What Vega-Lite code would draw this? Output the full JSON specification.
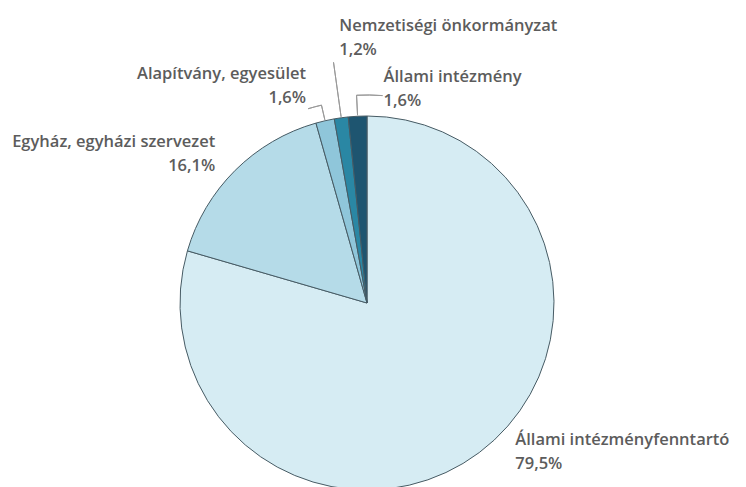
{
  "$schema": "https://vega.github.io/schema/vega-lite/v6.json",
  "width": 734,
  "height": 368,
  "autosize": {"type": "none"},
  "padding": {"left": 0, "top": 119, "right": 12, "bottom": 0},
  "background": "white",
  "config": {"view": {"stroke": null}, "text": {"font": "Open Sans", "fontSize": 16.5, "fontWeight": 600, "fill": "#5c5c5c", "lineHeight": 24}},
  "data": {"values": [
    {"name": "Állami intézményfenntartó", "value": 79.5, "order": 1},
    {"name": "Egyház, egyházi szervezet", "value": 16.1, "order": 2},
    {"name": "Alapítvány, egyesület", "value": 1.6, "order": 3},
    {"name": "Nemzetiségi önkormányzat", "value": 1.2, "order": 4},
    {"name": "Állami intézmény", "value": 1.6, "order": 5}
  ]},
  "transform": [
    {"stack": "value", "groupby": [], "as": ["v0", "v1"], "sort": [{"field": "order", "order": "ascending"}]},
    {"calculate": "(datum.v0 + datum.v1) / 2", "as": "mid"},
    {"calculate": "datum.name + '\\n' + replace(format(datum.value, '.1f'), '.', ',') + '%'", "as": "label"}
  ],
  "layer": [
    {
      "mark": {"type": "arc", "outerRadius": 187, "stroke": "#475b64", "strokeWidth": 1},
      "encoding": {
        "theta": {"field": "v0", "type": "quantitative", "scale": {"domain": [0, 100], "range": [0, 6.283185307]}},
        "theta2": {"field": "v1"},
        "color": {"field": "name", "type": "nominal", "legend": null,
          "scale": {"domain": ["Állami intézményfenntartó", "Egyház, egyházi szervezet", "Alapítvány, egyesület", "Nemzetiségi önkormányzat", "Állami intézmény"],
                    "range": ["#d6ecf3", "#b5dbe8", "#8fc6da", "#2a87a4", "#1e5570"]}}
      }
    },
    {
      "transform": [{"filter": "datum.order == 3"}],
      "mark": {"type": "arc", "innerRadius": 188, "outerRadius": 203, "fill": null, "stroke": "#999999", "strokeWidth": 1},
      "encoding": {
        "theta": {"field": "mid", "type": "quantitative", "stack": null, "scale": {"domain": [0, 100], "range": [0, 6.283185307]}},
        "theta2": {"field": "mid"}
      }
    },
    {
      "transform": [{"filter": "datum.order == 3"}],
      "mark": {"type": "arc", "innerRadius": 203, "outerRadius": 203, "thetaOffset": -0.068, "fill": null, "stroke": "#999999", "strokeWidth": 1},
      "encoding": {
        "theta": {"field": "mid", "type": "quantitative", "stack": null, "scale": {"domain": [0, 100], "range": [0, 6.283185307]}},
        "theta2": {"field": "mid"}
      }
    },
    {
      "transform": [{"filter": "datum.order == 4"}],
      "mark": {"type": "arc", "innerRadius": 188, "outerRadius": 243, "fill": null, "stroke": "#999999", "strokeWidth": 1},
      "encoding": {
        "theta": {"field": "mid", "type": "quantitative", "stack": null, "scale": {"domain": [0, 100], "range": [0, 6.283185307]}},
        "theta2": {"field": "mid"}
      }
    },
    {
      "transform": [{"filter": "datum.order == 5"}],
      "mark": {"type": "arc", "innerRadius": 188, "outerRadius": 208, "fill": null, "stroke": "#999999", "strokeWidth": 1},
      "encoding": {
        "theta": {"field": "mid", "type": "quantitative", "stack": null, "scale": {"domain": [0, 100], "range": [0, 6.283185307]}},
        "theta2": {"field": "mid"}
      }
    },
    {
      "transform": [{"filter": "datum.order == 5"}],
      "mark": {"type": "arc", "innerRadius": 208, "outerRadius": 208, "theta2Offset": 0.125, "fill": null, "stroke": "#999999", "strokeWidth": 1},
      "encoding": {
        "theta": {"field": "mid", "type": "quantitative", "stack": null, "scale": {"domain": [0, 100], "range": [0, 6.283185307]}},
        "theta2": {"field": "mid"}
      }
    },
    {
      "transform": [{"filter": "datum.order == 1"}],
      "mark": {"type": "text", "radius": 187, "align": "left", "baseline": "alphabetic", "dx": 36, "dy": -8, "lineBreak": "\n"},
      "encoding": {
        "theta": {"field": "mid", "type": "quantitative", "stack": null, "scale": {"domain": [0, 100], "range": [0, 6.283185307]}},
        "text": {"field": "label"}
      }
    },
    {
      "transform": [{"filter": "datum.order == 2"}],
      "mark": {"type": "text", "radius": 187, "align": "right", "baseline": "alphabetic", "dx": -20, "dy": -23, "lineBreak": "\n"},
      "encoding": {
        "theta": {"field": "mid", "type": "quantitative", "stack": null, "scale": {"domain": [0, 100], "range": [0, 6.283185307]}},
        "text": {"field": "label"}
      }
    },
    {
      "transform": [{"filter": "datum.order == 3"}],
      "mark": {"type": "text", "radius": 187, "align": "right", "baseline": "alphabetic", "dx": -19, "dy": -42, "lineBreak": "\n"},
      "encoding": {
        "theta": {"field": "mid", "type": "quantitative", "stack": null, "scale": {"domain": [0, 100], "range": [0, 6.283185307]}},
        "text": {"field": "label"}
      }
    },
    {
      "transform": [{"filter": "datum.order == 4"}],
      "mark": {"type": "text", "radius": 187, "align": "left", "baseline": "alphabetic", "dx": -2, "dy": -87, "lineBreak": "\n"},
      "encoding": {
        "theta": {"field": "mid", "type": "quantitative", "stack": null, "scale": {"domain": [0, 100], "range": [0, 6.283185307]}},
        "text": {"field": "label"}
      }
    },
    {
      "transform": [{"filter": "datum.order == 5"}],
      "mark": {"type": "text", "radius": 187, "align": "left", "baseline": "alphabetic", "dx": 26, "dy": -34, "lineBreak": "\n"},
      "encoding": {
        "theta": {"field": "mid", "type": "quantitative", "stack": null, "scale": {"domain": [0, 100], "range": [0, 6.283185307]}},
        "text": {"field": "label"}
      }
    }
  ]
}
